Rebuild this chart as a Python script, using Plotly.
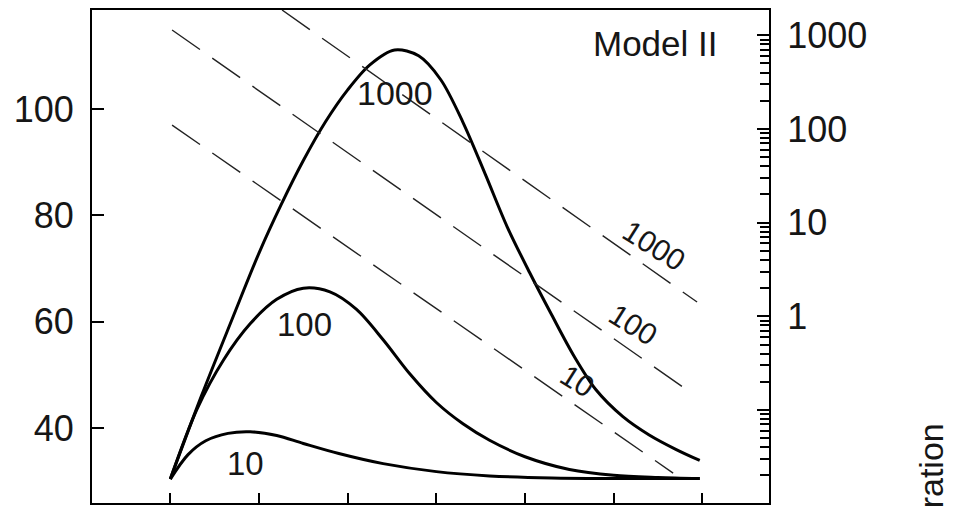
import plotly.graph_objects as go

# ---- data ----
# x axis: time (tick positions 0..6, unlabelled in the crop)
x_ticks = [0, 1, 2, 3, 4, 5, 6]
left_ticks = [40, 60, 80, 100]
right_ticks = [0.1, 1, 10, 100, 1000]
right_ticktext = ["", "1", "10", "100", "1000"]

# solid response curves (left axis)
t_1000 = [0.0, 0.35, 0.7, 1.0, 1.25, 1.5, 1.75, 2.0, 2.25, 2.53, 2.8, 3.05,
          3.3, 3.55, 3.8, 4.05, 4.3, 4.55, 4.8, 5.1, 5.4, 5.7, 5.97]
v_1000 = [30.4, 46.0, 60.6, 72.9, 82.0, 90.3, 97.6, 103.6, 108.3, 111.1, 110.0, 105.5,
          97.5, 87.8, 77.8, 69.3, 61.3, 53.6, 47.2, 42.2, 38.7, 36.0, 33.9]

t_100 = [0.0, 0.3, 0.6, 0.9, 1.2, 1.5, 1.8, 2.1, 2.4, 2.7, 3.0, 3.3, 3.6, 4.0, 4.5, 5.0, 5.5, 5.97]
v_100 = [30.4, 43.5, 52.8, 59.6, 64.2, 66.3, 65.6, 62.3, 56.6, 50.2, 44.8, 40.8, 37.7, 34.6,
         32.2, 31.1, 30.7, 30.5]

t_10 = [0.0, 0.2, 0.4, 0.65, 0.9, 1.2, 1.5, 1.9, 2.4, 3.0, 3.6, 4.3, 5.0, 5.97]
v_10 = [30.4, 35.0, 37.6, 39.0, 39.3, 38.6, 37.1, 35.2, 33.3, 31.8, 31.0, 30.6, 30.5, 30.5]

# dashed concentration decay lines (right log axis)
dash_t_1000 = [1.26, 5.94]
dash_c_1000 = [1862, 1.42]
dash_t_100 = [0.02, 5.78]
dash_c_100 = [1138, 0.176]
dash_t_10 = [0.02, 5.67]
dash_c_10 = [110, 0.0212]

minor_vals = [m * 10 ** k for k in range(-2, 4) for m in range(2, 10)]

FONT = "Arial, Liberation Sans, sans-serif"
TXT = "#161616"

fig = go.Figure()

for t, v in [(t_1000, v_1000), (t_100, v_100), (t_10, v_10)]:
    fig.add_trace(go.Scatter(x=t, y=v, mode="lines",
                             line=dict(color="black", width=3, shape="spline", smoothing=0.9),
                             showlegend=False, hoverinfo="skip"))

for t, c in [(dash_t_1000, dash_c_1000), (dash_t_100, dash_c_100), (dash_t_10, dash_c_10)]:
    fig.add_trace(go.Scatter(x=t, y=c, yaxis="y2", mode="lines",
                             line=dict(color="#222", width=1.4, dash="34px,15px"),
                             showlegend=False, hoverinfo="skip"))

ann = []
def A(text, x, y, size=34, angle=0, **kw):
    d = dict(text=text, x=x, y=y, xref="x", yref="y", showarrow=False,
             font=dict(family=FONT, size=size, color=TXT), textangle=angle,
             xanchor="center", yanchor="middle")
    d.update(kw)
    ann.append(d)

A("Model II", 5.47, 112.4, size=35)
A("1000", 2.528, 103.1, size=34)
A("100", 1.513, 59.5, size=33)
A("10", 0.848, 33.3, size=33)
A("1000", 5.455, 74.4, size=30, angle=32)
A("100", 5.218, 59.4, size=30, angle=32)
A("10", 4.586, 49.0, size=30, angle=32)
ann.append(dict(text="Concentration", x=1.239, y=0.166, xref="paper", yref="paper",
                showarrow=False, textangle=-90, xanchor="center", yanchor="top",
                font=dict(family=FONT, size=34, color=TXT)))

fig.update_layout(
    width=961, height=506,
    margin=dict(l=92, r=192, t=10, b=3, pad=0),
    paper_bgcolor="white", plot_bgcolor="white",
    font=dict(family=FONT, size=36, color=TXT),
    annotations=ann,
    xaxis=dict(range=[-0.883, 6.751], tickvals=x_ticks, showticklabels=False,
               ticks="inside", ticklen=10, tickwidth=2, tickcolor="black",
               showline=True, linecolor="black", linewidth=2, mirror=True,
               showgrid=False, zeroline=False),
    yaxis=dict(range=[25.9, 118.62], tickvals=left_ticks,
               ticks="inside", ticklen=12, tickwidth=2, tickcolor="black",
               showline=True, linecolor="black", linewidth=2,
               showgrid=False, zeroline=False, ticklabelstandoff=9,
               tickfont=dict(family=FONT, size=36, color=TXT)),
    yaxis2=dict(overlaying="y", side="right", type="log", range=[-1.993, 3.270],
                tickmode="array", tickvals=right_ticks, ticktext=right_ticktext,
                ticks="inside", ticklen=12, tickwidth=2, tickcolor="black",
                showline=True, linecolor="black", linewidth=2,
                showgrid=False, zeroline=False, ticklabelstandoff=9,
                tickfont=dict(family=FONT, size=36, color=TXT),
                minor=dict(tickmode="array", tickvals=minor_vals, ticks="inside",
                           ticklen=9, tickwidth=2, tickcolor="black", showgrid=False)),
)

fig.write_html("out.html")
